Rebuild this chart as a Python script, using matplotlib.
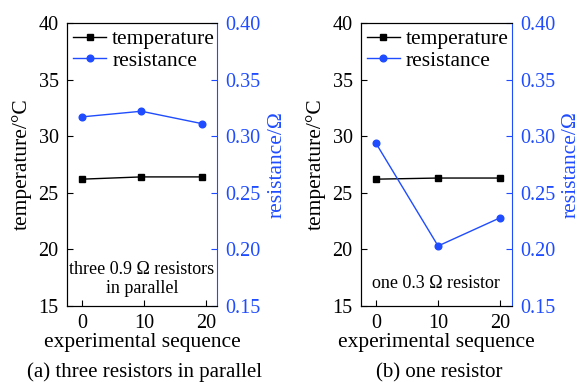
import matplotlib.pyplot as plt
import numpy as np

plt.rcParams['font.family'] = ['Liberation Serif', 'DejaVu Serif']
plt.rcParams['mathtext.fontset'] = 'stix'

blue = '#1f4cff'

# panel (a): three 0.9 ohm resistors in parallel
seq_a = [0, 9.6, 19.4]
temp_a = [26.2, 26.4, 26.4]
res_a = [0.317, 0.322, 0.311]

# panel (b): one 0.3 ohm resistor
seq_b = [0, 10, 20]
temp_b = [26.2, 26.3, 26.3]
res_b = [0.294, 0.203, 0.228]

xticks = [0, 10, 20]
temp_ticks = [15, 20, 25, 30, 35, 40]
res_ticks = [0.15, 0.20, 0.25, 0.30, 0.35, 0.40]

panels = [
    (seq_a, temp_a, res_a, 'three 0.9 Ω resistors\nin parallel', 0.095,
     '(a) three resistors in parallel', [0.115, 0.199, 0.258, 0.741]),
    (seq_b, temp_b, res_b, 'one 0.3 Ω resistor', 0.078,
     '(b) one resistor', [0.620, 0.199, 0.259, 0.741]),
]

fig = plt.figure(figsize=(5.82, 3.82), dpi=100)

for seq, temp, res, note, note_y, caption, pos in panels:
    ax = fig.add_axes(pos)
    ax2 = ax.twinx()
    l1, = ax.plot(seq, temp, color='black', marker='s', markersize=4.5,
                  linewidth=1.0, label='temperature')
    l2, = ax2.plot(seq, res, color=blue, marker='o', markersize=4.8,
                   linewidth=1.0, label='resistance')
    ax.set_xlim(-2.4, 21.8)
    ax.set_ylim(15, 40)
    ax2.set_ylim(0.15, 0.40)
    ax.set_xticks(xticks)
    ax.set_yticks(temp_ticks)
    ax2.set_yticks(res_ticks)
    ax2.set_yticklabels(['%.2f' % v for v in res_ticks])
    ax.tick_params(direction='in', labelsize=14.5, length=4, pad=6)
    ax2.tick_params(direction='in', labelsize=14.5, length=4, pad=6, colors=blue)
    ax2.spines['right'].set_color(blue)
    ax.spines['right'].set_visible(False)
    ax.set_ylabel('temperature/°C', fontsize=15.5, labelpad=5)
    ax2.set_ylabel('resistance/Ω', fontsize=15.5, color=blue, labelpad=5)
    ax.set_xlabel('experimental sequence', fontsize=15.5, labelpad=0)
    ax.legend([l1, l2], ['temperature', 'resistance'], loc='upper left',
              frameon=False, fontsize=15.5, handlelength=1.5, handletextpad=0.3,
              borderaxespad=0.1, borderpad=0.2, labelspacing=0.05)
    ax.text(0.5, note_y, note, transform=ax.transAxes, ha='center',
            va='center', fontsize=13, linespacing=1.15)
    fig.text(pos[0] + pos[2] / 2 + 0.005, 0.025, caption, ha='center',
             va='center', fontsize=15)

fig.savefig('out.png', dpi=100)
